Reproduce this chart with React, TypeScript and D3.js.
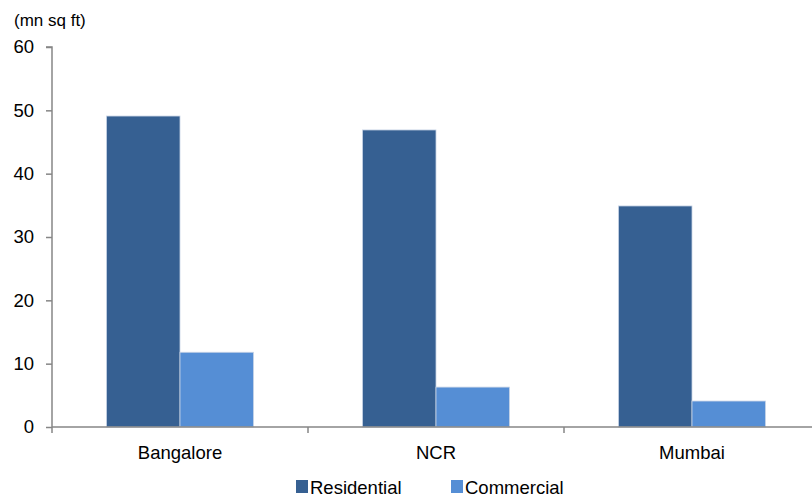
import { useRef, useEffect } from 'react';
import * as d3 from 'd3';

const cities = ['Bangalore', 'NCR', 'Mumbai'];
const seriesNames = ['Residential', 'Commercial'];
const residential = [49.1, 46.9, 34.9];
const commercial = [11.8, 6.3, 4.1];
const yTicks = [0, 10, 20, 30, 40, 50, 60];
const colors = ['#366092', '#558ED5'];

const width = 812;
const height = 497;

const App = () => {
  const svgRef = useRef<SVGSVGElement | null>(null);

  useEffect(() => {
    if (!svgRef.current) return;
    const svg = d3.select(svgRef.current);
    svg.selectAll('*').remove();

    const font = 'Liberation Sans, Arial, sans-serif';
    const left = 52;
    const right = 820;

    const x = d3.scaleBand().domain(cities).range([left, right]).padding(0);
    const inner = d3
      .scaleBand()
      .domain(seriesNames)
      .range([54.5, x.bandwidth() - 54.5])
      .padding(0);
    const y = d3.scaleLinear().domain([0, 60]).range([427, 47]);

    // y axis
    const gy = svg.append('g').attr('transform', `translate(${left},0)`);
    gy.call(d3.axisLeft(y).tickValues(yTicks).tickSize(6).tickPadding(12));
    gy.selectAll('path, line').attr('stroke', '#868686').attr('stroke-width', 1.5);
    gy.select('.domain').attr('d', `M-6,${y(60)}H0V${y(0)}`);
    gy.selectAll('text')
      .attr('font-family', font)
      .attr('font-size', 18.5)
      .attr('fill', '#000');

    const series = [residential, commercial];
    series.forEach((vals, si) => {
      svg
        .append('g')
        .selectAll('rect')
        .data(vals)
        .join('rect')
        .attr('x', (_, i) => x(cities[i])! + inner(seriesNames[si])!)
        .attr('width', inner.bandwidth())
        .attr('y', (d) => y(d))
        .attr('height', (d) => y(0) - y(d))
        .attr('fill', colors[si])
        .attr('stroke', '#c8d4e6')
        .attr('stroke-width', 0.8);
    });

    // x axis
    const gx = svg.append('g').attr('transform', `translate(0,${y(0)})`);
    gx.append('line')
      .attr('x1', left)
      .attr('x2', width)
      .attr('stroke', '#868686')
      .attr('stroke-width', 1.5);
    const bounds = [left, ...cities.slice(1).map((c) => x(c)!)];
    gx.selectAll('line.tick')
      .data(bounds)
      .join('line')
      .attr('class', 'tick')
      .attr('x1', (d) => d)
      .attr('x2', (d) => d)
      .attr('y1', 0)
      .attr('y2', 6)
      .attr('stroke', '#868686')
      .attr('stroke-width', 1.5);
    gx.selectAll('text')
      .data(cities)
      .join('text')
      .attr('x', (d) => x(d)! + x.bandwidth() / 2)
      .attr('y', 32)
      .attr('text-anchor', 'middle')
      .attr('font-family', font)
      .attr('font-size', 18.5)
      .text((d) => d);

    // unit label
    svg
      .append('text')
      .attr('x', 14)
      .attr('y', 26)
      .attr('font-family', font)
      .attr('font-size', 17)
      .text('(mn sq ft)');

    // legend
    const legendX = [296, 451];
    const lg = svg.append('g');
    seriesNames.forEach((name, i) => {
      lg.append('rect')
        .attr('x', legendX[i])
        .attr('y', 480)
        .attr('width', 12)
        .attr('height', 13)
        .attr('fill', colors[i]);
      lg.append('text')
        .attr('x', legendX[i] + 14)
        .attr('y', 494)
        .attr('font-family', font)
        .attr('font-size', 18.5)
        .text(name);
    });
  }, []);

  return (
    <svg
      ref={svgRef}
      width={width}
      height={height}
      style={{ position: 'absolute', left: 0, top: 0, background: '#fff' }}
    />
  );
};

export default App;
